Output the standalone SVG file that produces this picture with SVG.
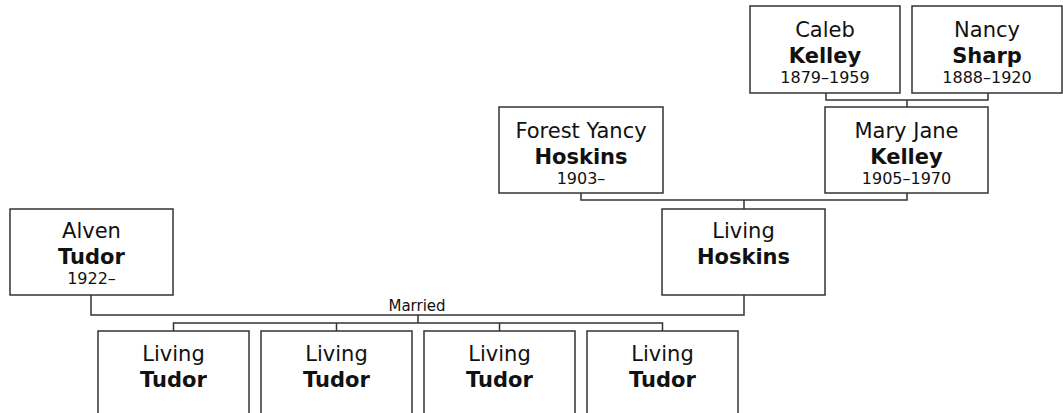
<svg xmlns="http://www.w3.org/2000/svg" width="1063" height="413" viewBox="0 0 1063 413">
<style>
rect.box{fill:#fff;stroke:#333;stroke-width:1.5}
text{font-family:"DejaVu Sans",Verdana,sans-serif;fill:#111;text-anchor:middle}
.n{font-size:21px}
.s{font-size:21px;font-weight:bold}
.d{font-size:16px}
.m{font-size:15px}
#connectors path{fill:none;stroke:#333;stroke-width:1.5}
</style>
<rect width="1063" height="413" fill="#fff"/>
<g id="connectors">
<path d="M826 93V100H988V93M907 100V107"/>
<path d="M581 193V200H907V193M744 200V209"/>
<path d="M91 295V315H744V295M418 315V323"/>
<path d="M173.5 331V323H662.5V331M336.5 323V331M499.5 323V331"/>
<text class="m" x="417" y="311">Married</text>
</g>
<g id="caleb"><rect class="box" x="750" y="6" width="150" height="87"/><text class="n" x="825" y="37">Caleb</text><text class="s" x="825" y="63">Kelley</text><text class="d" x="825" y="83">1879–1959</text></g>
<g id="nancy"><rect class="box" x="912" y="6" width="150" height="87"/><text class="n" x="987" y="37">Nancy</text><text class="s" x="987" y="63">Sharp</text><text class="d" x="987" y="83">1888–1920</text></g>
<g id="forest"><rect class="box" x="499" y="107" width="164" height="86"/><text class="n" x="581" y="138">Forest Yancy</text><text class="s" x="581" y="164">Hoskins</text><text class="d" x="581" y="184">1903–</text></g>
<g id="maryjane"><rect class="box" x="825" y="107" width="163" height="86"/><text class="n" x="906.5" y="138">Mary Jane</text><text class="s" x="906.5" y="164">Kelley</text><text class="d" x="906.5" y="184">1905–1970</text></g>
<g id="alven"><rect class="box" x="10" y="209" width="163" height="86"/><text class="n" x="91.5" y="238">Alven</text><text class="s" x="91.5" y="264">Tudor</text><text class="d" x="91.5" y="284">1922–</text></g>
<g id="livinghoskins"><rect class="box" x="662" y="209" width="163" height="86"/><text class="n" x="743.5" y="238">Living</text><text class="s" x="743.5" y="264">Hoskins</text></g>
<g id="child1"><rect class="box" x="98" y="331" width="151" height="90"/><text class="n" x="173.5" y="361">Living</text><text class="s" x="173.5" y="387">Tudor</text></g>
<g id="child2"><rect class="box" x="261" y="331" width="151" height="90"/><text class="n" x="336.5" y="361">Living</text><text class="s" x="336.5" y="387">Tudor</text></g>
<g id="child3"><rect class="box" x="424" y="331" width="151" height="90"/><text class="n" x="499.5" y="361">Living</text><text class="s" x="499.5" y="387">Tudor</text></g>
<g id="child4"><rect class="box" x="587" y="331" width="151" height="90"/><text class="n" x="662.5" y="361">Living</text><text class="s" x="662.5" y="387">Tudor</text></g>
</svg>
